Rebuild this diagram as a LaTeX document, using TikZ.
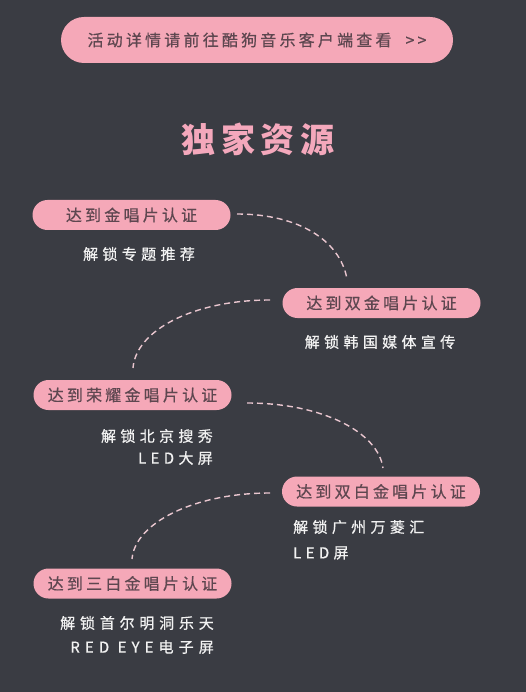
\documentclass[tikz,border=0pt]{standalone}
\usepackage{fontspec}
\newfontfamily\cjk{Noto Sans CJK SC}
\definecolor{bgc}{HTML}{3A3C43}
\definecolor{pinkc}{HTML}{F5A8B8}
\definecolor{pilltext}{HTML}{5E4750}
\definecolor{titlec}{HTML}{F4A8BC}
\definecolor{subc}{HTML}{F2F2F2}
\definecolor{dashc}{HTML}{E9C6CF}
\begin{document}
\begin{tikzpicture}[x=1pt,y=-1pt,
  pill/.style={fill=pinkc, rounded corners=15pt, minimum width=198pt, minimum height=30pt, inner sep=0pt, text=pilltext,
    font=\cjk\fontsize{16}{16}\selectfont\addfontfeatures{LetterSpace=20,FakeBold=0.6}},
  subtxt/.style={inner sep=0pt, text=subc, font=\cjk\fontsize{15}{15}\selectfont\addfontfeatures{LetterSpace=29,FakeBold=0.6}},
  link/.style={draw=dashc, line width=1.4pt, dash pattern=on 6pt off 4pt}]
\fill[bgc] (0,0) rectangle (526,692);
\useasboundingbox (0,0) rectangle (526,692);

% top banner
\node[fill=pinkc, rounded corners=23pt, minimum width=392pt, minimum height=46pt, inner sep=0pt, text=pilltext,
  font=\cjk\fontsize{16}{16}\selectfont\addfontfeatures{LetterSpace=20,FakeBold=0.6}] (banner) at (257,40)
  {活动详情请前往酷狗音乐客户端查看\hspace{14pt}>>};

% title
\node[inner sep=0pt, text=titlec, font=\cjk\bfseries\fontsize{34}{34}\selectfont\addfontfeatures{LetterSpace=17}] (title) at (258,139) {独家资源};

% pills
\node[pill] (p1) at (131.5,215) {达到金唱片认证};
\node[pill] (p2) at (381.5,303) {达到双金唱片认证};
\node[pill] (p3) at (132.5,395) {达到荣耀金唱片认证};
\node[pill] (p4) at (381,491.5) {达到双白金唱片认证};
\node[pill] (p5) at (132.5,583.5) {达到三白金唱片认证};

% sub texts
\node[subtxt] (s1) at (139,254) {解锁专题推荐};
\node[subtxt] (s2) at (380,342) {解锁韩国媒体宣传};
\node[subtxt, anchor=east] (s3a) at (213,436) {解锁北京搜秀};
\node[subtxt, anchor=east] (s3b) at (213,458) {LED大屏};
\node[subtxt, anchor=west] (s4a) at (293,527) {解锁广州万菱汇};
\node[subtxt, anchor=west] (s4b) at (293,553) {LED屏};
\node[subtxt, anchor=east, font=\cjk\fontsize{15}{15}\selectfont\addfontfeatures{LetterSpace=32,FakeBold=0.6}] (s5a) at (214,623) {解锁首尔明洞乐天};
\node[subtxt, anchor=east, font=\cjk\fontsize{15}{15}\selectfont\addfontfeatures{LetterSpace=34,FakeBold=0.6}] (s5b) at (214,647) {RED EYE电子屏};

% connector end points
\coordinate (c1a) at (237,214);
\coordinate (c1b) at (347,279);
\coordinate (c2a) at (270,300);
\coordinate (c2b) at (133,368);
\coordinate (c3a) at (247,403);
\coordinate (c3b) at (383,468);
\coordinate (c4a) at (270,493);
\coordinate (c4b) at (132,559);

\draw[link] (c1a) .. controls (298,214) and (340,240) .. (c1b);
\draw[link] (c2a) .. controls (194,300) and (136,330) .. (c2b);
\draw[link] (c3a) .. controls (322,403) and (378,432) .. (c3b);
\draw[link] (c4a) .. controls (194,493) and (135,523) .. (c4b);
\end{tikzpicture}
\end{document}
